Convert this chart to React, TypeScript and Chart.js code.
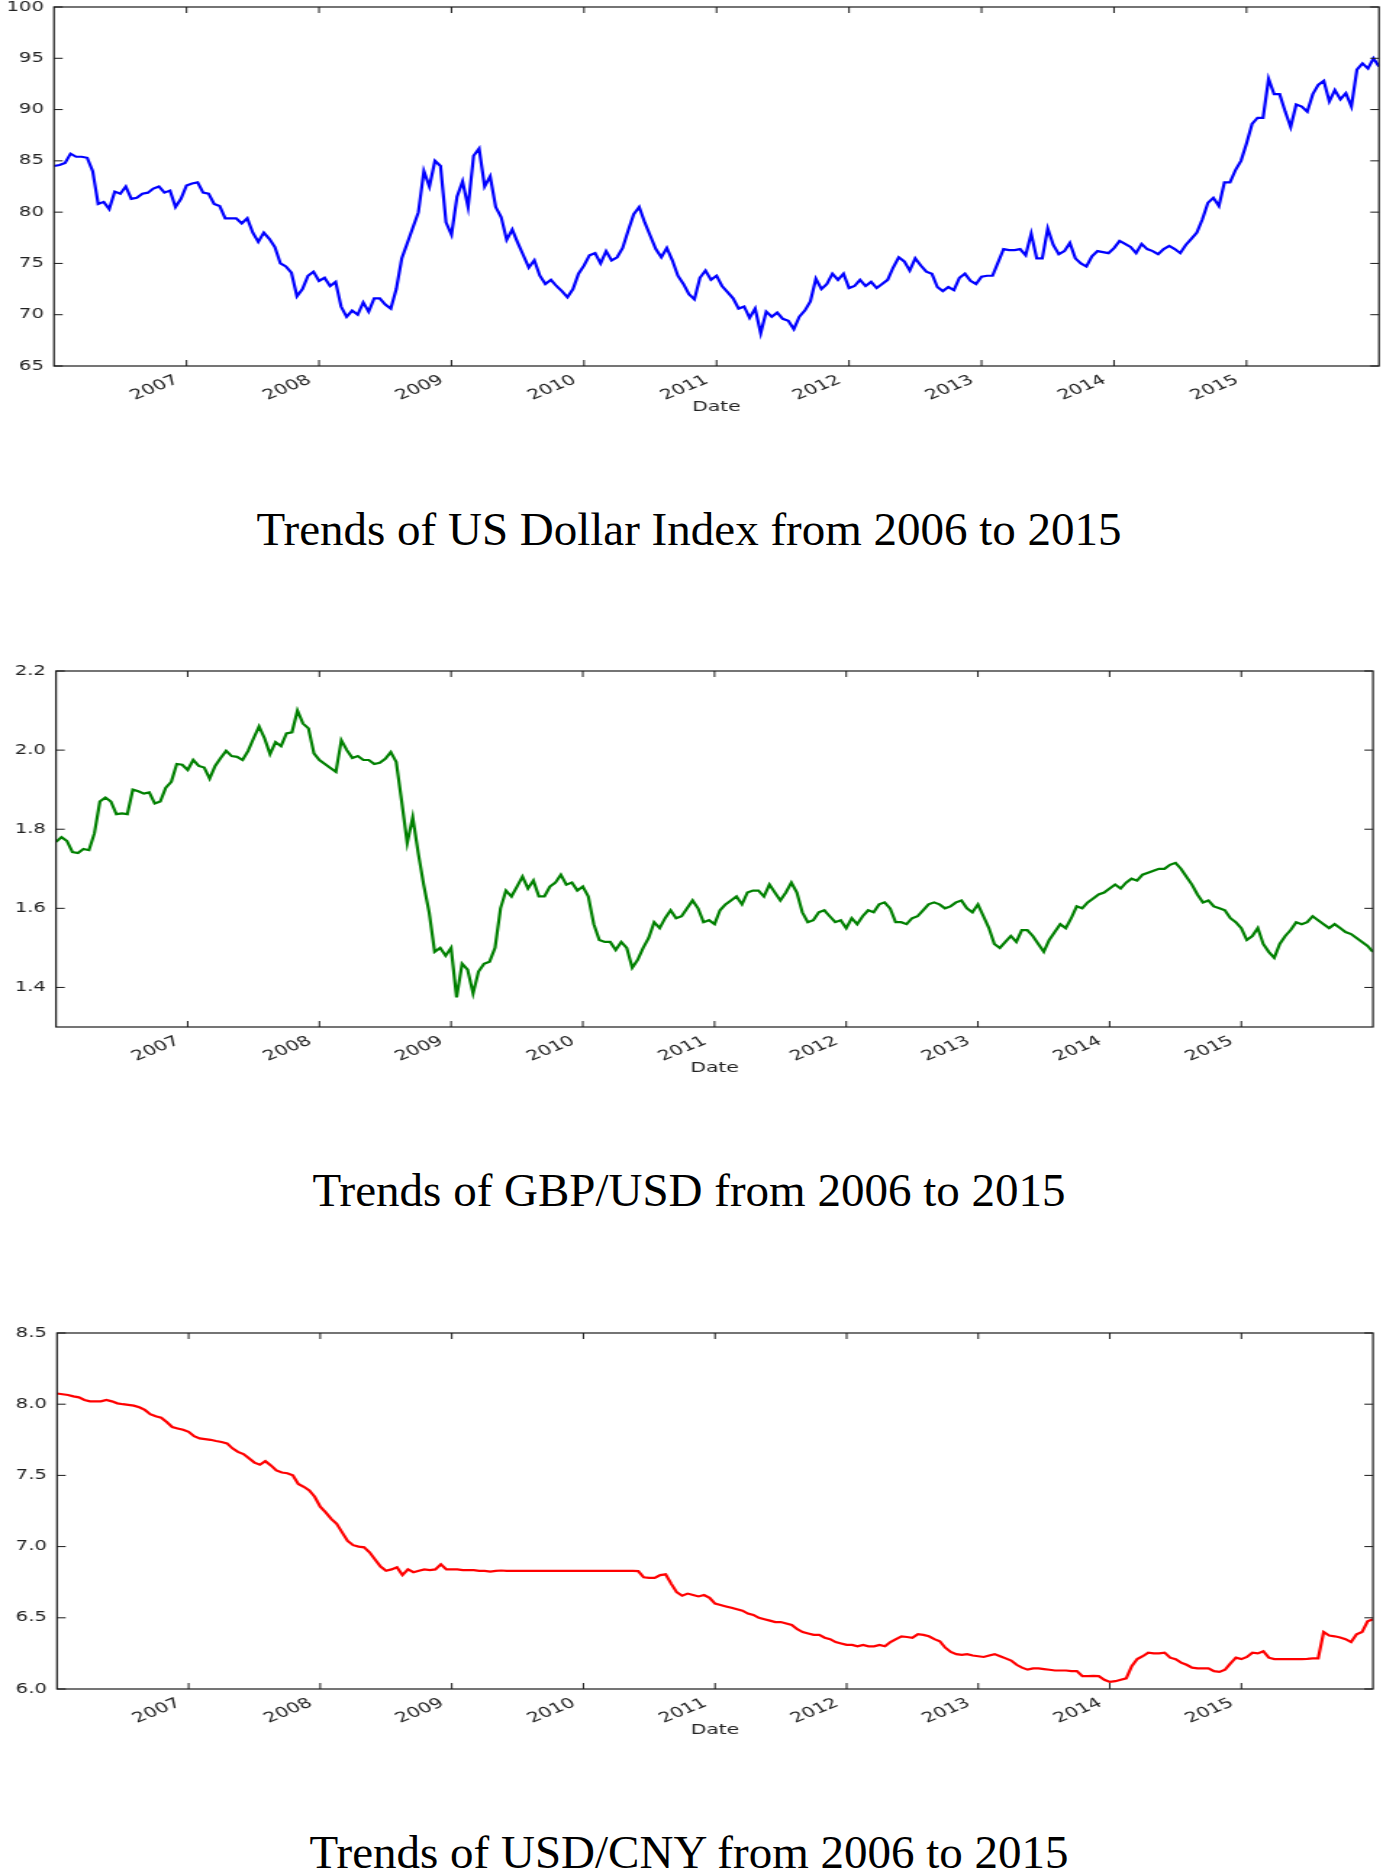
import React, { useEffect, useRef } from "react";
import { Chart, registerables } from "chart.js";

Chart.register(...registerables);

// ---------------- data ----------------
const START_YEAR = 2006;
const SAMPLES_PER_YEAR = 24; // semi-monthly samples, 2006-01 .. 2016-01
const yearTicks = [2007, 2008, 2009, 2010, 2011, 2012, 2013, 2014, 2015];

const usdIndexTicks = [65, 70, 75, 80, 85, 90, 95, 100];
const gbpUsdTicks = [1.4, 1.6, 1.8, 2.0, 2.2];
const usdCnyTicks = [6.0, 6.5, 7.0, 7.5, 8.0, 8.5];

const usdIndex = [
  84.5, 84.6, 84.8, 85.7, 85.4, 85.4, 85.3, 84.0, 80.8, 81.0, 80.3, 82.0, 81.8, 82.5, 81.3, 81.4, 81.8, 81.9, 82.3, 82.5, 81.9, 82.1, 80.5, 81.3,
  82.6, 82.8, 82.9, 81.9, 81.8, 80.8, 80.6, 79.4, 79.4, 79.4, 78.9, 79.4, 78.0, 77.1, 78.0, 77.4, 76.6, 75.0, 74.7, 74.1, 71.8, 72.5, 73.8, 74.2,
  73.3, 73.6, 72.8, 73.2, 70.8, 69.8, 70.4, 70.0, 71.2, 70.3, 71.6, 71.6, 71.0, 70.6, 72.5, 75.5, 77.0, 78.5, 80.0, 84.0, 82.5, 85.0, 84.5, 79.0,
  77.8, 81.5, 83.0, 80.5, 85.5, 86.2, 82.5, 83.5, 80.5, 79.5, 77.3, 78.3, 77.0, 75.8, 74.6, 75.3, 73.8, 73.0, 73.4, 72.8, 72.3, 71.7, 72.5, 74.0,
  74.8, 75.8, 76.0, 75.0, 76.2, 75.3, 75.6, 76.5, 78.2, 79.8, 80.5, 79.0, 77.7, 76.4, 75.6, 76.5, 75.3, 73.8, 73.0, 72.0, 71.5, 73.6, 74.3, 73.4,
  73.8, 72.8, 72.2, 71.6, 70.6, 70.8, 69.7, 70.6, 68.2, 70.3, 69.8, 70.2, 69.6, 69.4, 68.6, 69.8, 70.4, 71.3, 73.5, 72.5, 73.0, 74.0, 73.4, 74.0,
  72.6, 72.8, 73.4, 72.8, 73.2, 72.6, 73.0, 73.4, 74.6, 75.6, 75.2, 74.3, 75.5, 74.8, 74.2, 74.0, 72.7, 72.3, 72.7, 72.4, 73.6, 74.0, 73.3, 73.0,
  73.7, 73.8, 73.8, 75.1, 76.4, 76.3, 76.3, 76.4, 75.8, 77.9, 75.5, 75.5, 78.4, 76.8, 75.9, 76.2, 77.0, 75.5, 75.0, 74.7, 75.7, 76.2, 76.1, 76.0,
  76.5, 77.2, 76.9, 76.6, 76.0, 76.9, 76.4, 76.2, 75.9, 76.4, 76.7, 76.4, 76.0, 76.8, 77.4, 78.0, 79.3, 80.9, 81.4, 80.6, 82.9, 82.9, 84.1, 85.0,
  86.7, 88.6, 89.2, 89.2, 93.0, 91.5, 91.5, 89.8, 88.3, 90.5, 90.3, 89.8, 91.5, 92.4, 92.8, 90.8, 91.9, 91.0, 91.6, 90.3, 93.9, 94.5, 94.0, 95.0,
  94.2,
];

const gbpUsd = [
  1.768, 1.78, 1.77, 1.742, 1.74, 1.75, 1.747, 1.79, 1.87, 1.88, 1.87, 1.838, 1.84, 1.838, 1.9, 1.896, 1.89, 1.893, 1.865, 1.87, 1.905, 1.92, 1.965, 1.963,
  1.95, 1.975, 1.96, 1.956, 1.928, 1.96, 1.98, 1.998, 1.985, 1.983, 1.975, 1.998, 2.03, 2.06, 2.03, 1.99, 2.02, 2.01, 2.042, 2.045, 2.1, 2.067, 2.055, 1.992,
  1.975, 1.965, 1.955, 1.945, 2.025, 2.0, 1.98, 1.985, 1.975, 1.975, 1.965, 1.968, 1.978, 1.995, 1.97, 1.87, 1.765, 1.83, 1.74, 1.66, 1.59, 1.49, 1.5, 1.48,
  1.5, 1.375, 1.46, 1.445, 1.385, 1.44, 1.46, 1.465, 1.5, 1.6, 1.645, 1.63, 1.655, 1.68, 1.65, 1.67, 1.63, 1.63, 1.655, 1.665, 1.685, 1.66, 1.665, 1.645,
  1.655, 1.63, 1.56, 1.52, 1.515, 1.515, 1.495, 1.515, 1.5, 1.45, 1.47, 1.5, 1.525, 1.565, 1.55, 1.575, 1.595, 1.575, 1.58, 1.6, 1.62, 1.6, 1.565, 1.57,
  1.56, 1.595, 1.61, 1.62, 1.63, 1.61, 1.64, 1.645, 1.645, 1.63, 1.66, 1.64, 1.62, 1.64, 1.665, 1.64, 1.59, 1.565, 1.57, 1.59, 1.595, 1.58, 1.565, 1.57,
  1.55, 1.575, 1.56, 1.58, 1.595, 1.59, 1.61, 1.615, 1.6, 1.565, 1.565, 1.56, 1.575, 1.58, 1.595, 1.61, 1.615, 1.61, 1.6, 1.605, 1.615, 1.62, 1.6, 1.59,
  1.61, 1.58, 1.55, 1.51, 1.5, 1.515, 1.53, 1.515, 1.545, 1.545, 1.53, 1.51, 1.49, 1.52, 1.54, 1.56, 1.55, 1.575, 1.605, 1.6, 1.615, 1.625, 1.635, 1.64,
  1.65, 1.66, 1.65, 1.665, 1.675, 1.67, 1.685, 1.69, 1.695, 1.7, 1.7, 1.71, 1.715, 1.7, 1.68, 1.66, 1.635, 1.615, 1.62, 1.605, 1.6, 1.595, 1.575, 1.565,
  1.55, 1.52, 1.53, 1.55, 1.51, 1.49, 1.475, 1.51, 1.53, 1.545, 1.565, 1.56, 1.565, 1.58, 1.57, 1.56, 1.55, 1.56, 1.55, 1.54, 1.535, 1.525, 1.515, 1.505,
  1.49,
];

const usdCny = [
  8.075, 8.07, 8.065, 8.055, 8.048, 8.03, 8.02, 8.02, 8.02, 8.03, 8.02, 8.006, 8.0, 7.995, 7.99, 7.978, 7.96, 7.93, 7.915, 7.905, 7.875, 7.84, 7.83, 7.82,
  7.806, 7.775, 7.76, 7.755, 7.75, 7.742, 7.735, 7.725, 7.69, 7.665, 7.65, 7.62, 7.59, 7.575, 7.6, 7.57, 7.535, 7.52, 7.515, 7.5, 7.44, 7.42, 7.395, 7.35,
  7.28, 7.24, 7.195, 7.16, 7.1, 7.04, 7.01, 7.0, 6.995, 6.96, 6.91, 6.86, 6.83, 6.84, 6.855, 6.8, 6.84, 6.82, 6.83, 6.84, 6.835, 6.84, 6.875, 6.84,
  6.84, 6.84, 6.835, 6.835, 6.835, 6.83, 6.83, 6.825, 6.83, 6.832, 6.83, 6.83, 6.83, 6.83, 6.83, 6.83, 6.83, 6.83, 6.83, 6.83, 6.83, 6.83, 6.83, 6.83,
  6.83, 6.83, 6.83, 6.83, 6.83, 6.83, 6.83, 6.83, 6.83, 6.83, 6.828, 6.785, 6.78, 6.78, 6.8, 6.805, 6.74, 6.68, 6.655, 6.67, 6.66, 6.65, 6.66, 6.64,
  6.6, 6.59, 6.58, 6.57, 6.56, 6.55, 6.53, 6.52, 6.5, 6.49, 6.48, 6.47, 6.47, 6.46, 6.45, 6.42, 6.4, 6.39, 6.38, 6.38, 6.36, 6.35, 6.33, 6.32,
  6.31, 6.31, 6.3, 6.31, 6.3, 6.3, 6.31, 6.3, 6.33, 6.35, 6.37, 6.365, 6.36, 6.385, 6.38, 6.37, 6.35, 6.335, 6.29, 6.26, 6.245, 6.24, 6.245, 6.235,
  6.23, 6.225, 6.235, 6.245, 6.23, 6.215, 6.2, 6.17, 6.15, 6.136, 6.145, 6.145, 6.14, 6.135, 6.13, 6.13, 6.13, 6.125, 6.125, 6.09, 6.09, 6.092, 6.09, 6.065,
  6.05, 6.055, 6.065, 6.075, 6.16, 6.21, 6.23, 6.255, 6.25, 6.25, 6.255, 6.22, 6.21, 6.185, 6.17, 6.15, 6.145, 6.145, 6.145, 6.125, 6.12, 6.135, 6.18, 6.22,
  6.21, 6.225, 6.255, 6.25, 6.265, 6.22, 6.21, 6.21, 6.21, 6.21, 6.21, 6.21, 6.212, 6.215, 6.215, 6.4, 6.375, 6.37, 6.362, 6.35, 6.33, 6.385, 6.4, 6.475,
  6.49,
];

const captions = [
  "Trends of US Dollar Index from 2006 to 2015",
  "Trends of GBP/USD from 2006 to 2015",
  "Trends of USD/CNY from 2006 to 2015",
];

// ---------------- layout ----------------
const PAGE_W = 1383;
const LOGICAL_W = 954; // the original figure is stretched horizontally
const SX = PAGE_W / LOGICAL_W;
const PAD_TOP = 16;
const X_AXIS_H = 50;
const Y_TICK_FONT = { family: '"DejaVu Sans", sans-serif', size: 13.5, lineHeight: 1 };
const X_TICK_FONT = { family: '"DejaVu Sans", sans-serif', size: 14, lineHeight: 1 };
const TEXT_COLOR = "#222";

const framePlugin = {
  id: "mplFrame",
  afterDraw(chart: any) {
    const { ctx, chartArea: a, scales } = chart;
    ctx.save();
    ctx.strokeStyle = "#1a1a1a";
    ctx.lineWidth = 1.2;
    ctx.strokeRect(a.left, a.top, a.right - a.left, a.bottom - a.top);
    ctx.lineWidth = 1;
    const L = 6;
    ctx.beginPath();
    scales.x.ticks.forEach((t: any) => {
      const px = scales.x.getPixelForValue(t.value);
      ctx.moveTo(px, a.bottom);
      ctx.lineTo(px, a.bottom - L);
      ctx.moveTo(px, a.top);
      ctx.lineTo(px, a.top + L);
    });
    scales.y.ticks.forEach((t: any) => {
      const py = scales.y.getPixelForValue(t.value);
      ctx.moveTo(a.left, py);
      ctx.lineTo(a.left + L, py);
      ctx.moveTo(a.right, py);
      ctx.lineTo(a.right - L, py);
    });
    ctx.stroke();
    ctx.restore();
  },
};

type PanelProps = {
  values: number[];
  color: string;
  yMin: number;
  yMax: number;
  yTicks: number[];
  decimals: number;
  plotTop: number;
  plotBottom: number;
  plotLeft: number;
  plotRight: number;
};

function Panel(p: PanelProps) {
  const ref = useRef<HTMLCanvasElement>(null);
  const top = p.plotTop - PAD_TOP;
  const height = p.plotBottom + X_AXIS_H - top;

  useEffect(() => {
    const canvas = ref.current;
    if (!canvas) return;
    const points = p.values.map((v, i) => ({ x: START_YEAR + i / SAMPLES_PER_YEAR, y: v }));
    const chart = new Chart(canvas, {
      type: "line",
      data: {
        datasets: [
          {
            data: points,
            borderColor: p.color,
            backgroundColor: p.color,
            borderWidth: 2.2,
            pointRadius: 0,
            tension: 0,
            fill: false,
          },
        ],
      },
      options: {
        animation: false,
        responsive: false,
        maintainAspectRatio: false,
        devicePixelRatio: 1,
        events: [],
        layout: {
          padding: { top: PAD_TOP, left: 0, bottom: 0, right: (PAGE_W - p.plotRight) / SX },
        },
        plugins: { legend: { display: false }, tooltip: { enabled: false }, title: { display: false } },
        scales: {
          x: {
            type: "linear",
            min: 2006,
            max: 2016,
            grid: { display: false, drawTicks: false },
            border: { display: false },
            afterBuildTicks: (s: any) => {
              s.ticks = yearTicks.map((v) => ({ value: v }));
            },
            afterFit: (s: any) => {
              s.height = X_AXIS_H;
            },
            ticks: {
              autoSkip: false,
              minRotation: 30,
              maxRotation: 30,
              padding: 7,
              labelOffset: -6.5,
              color: TEXT_COLOR,
              font: X_TICK_FONT,
              callback: (v: any) => String(v),
            },
            title: {
              display: true,
              text: "Date",
              color: TEXT_COLOR,
              font: { family: '"DejaVu Sans", sans-serif', size: 14 },
              padding: { top: 0, bottom: 0 },
            },
          },
          y: {
            type: "linear",
            min: p.yMin,
            max: p.yMax,
            grid: { display: false, drawTicks: false },
            border: { display: false },
            afterBuildTicks: (s: any) => {
              s.ticks = p.yTicks.map((v) => ({ value: v }));
            },
            afterFit: (s: any) => {
              s.width = p.plotLeft / SX;
            },
            ticks: {
              padding: 7,
              color: TEXT_COLOR,
              font: Y_TICK_FONT,
              callback: (v: any) => Number(v).toFixed(p.decimals),
            },
          },
        },
      },
      plugins: [framePlugin],
    } as any);
    return () => chart.destroy();
  }, []);

  return (
    <canvas
      ref={ref}
      width={LOGICAL_W}
      height={height}
      style={{ position: "absolute", left: 0, top, width: PAGE_W, height }}
    />
  );
}

function Caption({ text, baseline }: { text: string; baseline: number }) {
  return (
    <div
      style={{
        position: "absolute",
        left: 0,
        width: 1378,
        top: baseline - 39.4,
        height: 47,
        lineHeight: "47px",
        fontSize: 47,
        fontFamily: '"Liberation Serif", "Times New Roman", serif',
        color: "#000",
        textAlign: "center",
        whiteSpace: "nowrap",
      }}
    >
      {text}
    </div>
  );
}

export default function App() {
  return (
    <div
      style={{
        position: "absolute",
        left: 0,
        top: 0,
        width: PAGE_W,
        height: 1870,
        overflow: "hidden",
        background: "#fff",
      }}
    >
      <Panel values={usdIndex} color="#0000ff" yMin={65} yMax={100} yTicks={usdIndexTicks} decimals={0}
        plotTop={7} plotBottom={366} plotLeft={54} plotRight={1379} />
      <Caption text={captions[0]} baseline={545} />
      <Panel values={gbpUsd} color="#008000" yMin={1.3} yMax={2.2} yTicks={gbpUsdTicks} decimals={1}
        plotTop={671} plotBottom={1027} plotLeft={56} plotRight={1373} />
      <Caption text={captions[1]} baseline={1206} />
      <Panel values={usdCny} color="#ff0000" yMin={6.0} yMax={8.5} yTicks={usdCnyTicks} decimals={1}
        plotTop={1333} plotBottom={1689} plotLeft={57} plotRight={1373} />
      <Caption text={captions[2]} baseline={1868} />
    </div>
  );
}
